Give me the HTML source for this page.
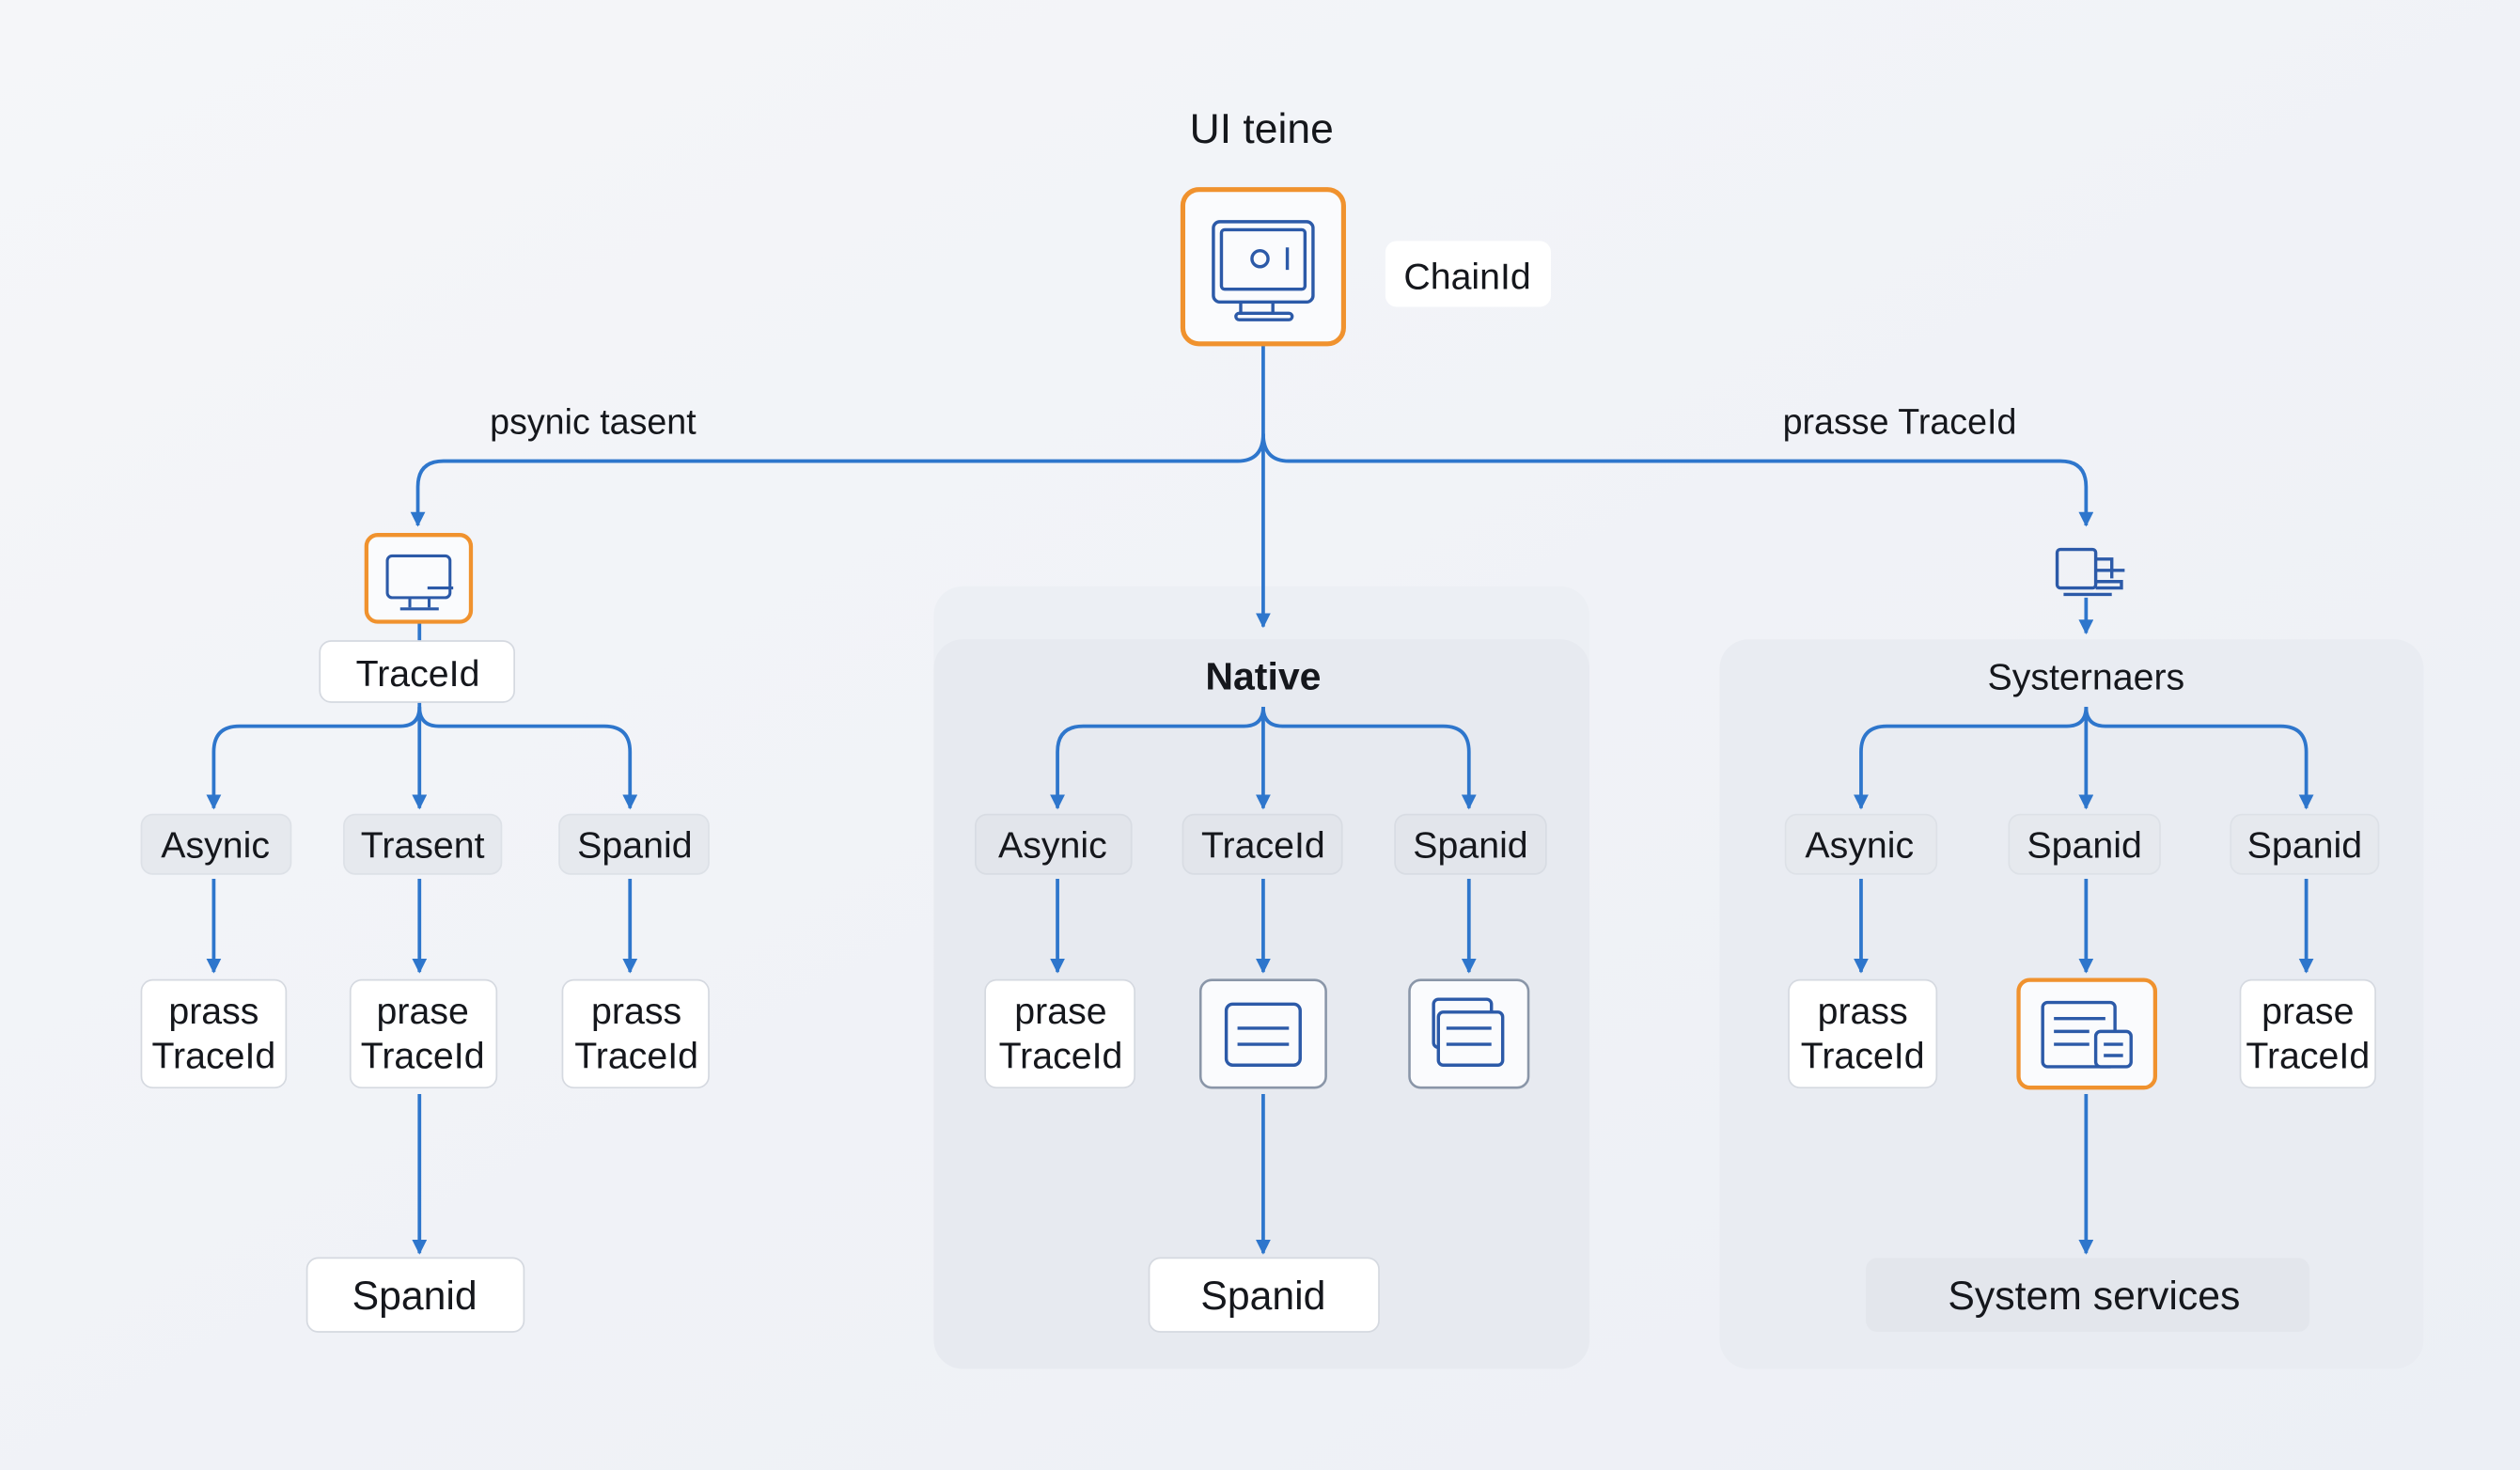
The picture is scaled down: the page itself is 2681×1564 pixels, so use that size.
<!DOCTYPE html>
<html><head><meta charset="utf-8"><style>
html,body{margin:0;padding:0;background:#f3f4f8;}
svg{display:block;}
text{font-family:"Liberation Sans",sans-serif;fill:#15171c;}
</style></head><body>
<svg width="2681" height="1564" viewBox="0 0 1568 915" preserveAspectRatio="none" xmlns="http://www.w3.org/2000/svg">
<defs>
<linearGradient id="bg" x1="0" y1="0" x2="1" y2="1"><stop offset="0" stop-color="#f5f6f9"/><stop offset="1" stop-color="#eceff5"/></linearGradient>
<marker id="a" viewBox="0 0 10 10" refX="9" refY="5" markerWidth="4.2" markerHeight="4.2" orient="auto"><path d="M0,0L10,5L0,10z" fill="#2e76cc"/></marker>
</defs>
<rect width="1568" height="915" fill="url(#bg)"/>
<!-- panels -->
<rect x="581" y="365" width="408" height="487" rx="18" fill="#eceff4"/>
<rect x="581" y="398" width="408" height="454" rx="18" fill="#e7eaf0"/>
<rect x="1070" y="398" width="438" height="454" rx="18" fill="#e9ecf2"/>

<g fill="none" stroke="#2e76cc" stroke-width="2.2">
<path d="M786,214 V390" marker-end="url(#a)"/>
<path d="M786,270 Q786,287 770,287 H276 Q260,287 260,303 V327" marker-end="url(#a)"/>
<path d="M786,270 Q786,287 802,287 H1282 Q1298,287 1298,303 V327" marker-end="url(#a)"/>
<path d="M1298,372 V394" marker-end="url(#a)"/>
<!-- left -->
<path d="M261,387 V399"/>
<path d="M261,437 V503" marker-end="url(#a)"/>
<path d="M261,440 Q261,452 249,452 H149 Q133,452 133,468 V503" marker-end="url(#a)"/>
<path d="M261,440 Q261,452 273,452 H376 Q392,452 392,468 V503" marker-end="url(#a)"/>
<path d="M133,547 V605" marker-end="url(#a)"/>
<path d="M261,547 V605" marker-end="url(#a)"/>
<path d="M392,547 V605" marker-end="url(#a)"/>
<path d="M261,681 V780" marker-end="url(#a)"/>
<!-- middle -->
<path d="M786,440 V503" marker-end="url(#a)"/>
<path d="M786,440 Q786,452 774,452 H674 Q658,452 658,468 V503" marker-end="url(#a)"/>
<path d="M786,440 Q786,452 798,452 H898 Q914,452 914,468 V503" marker-end="url(#a)"/>
<path d="M658,547 V605" marker-end="url(#a)"/>
<path d="M786,547 V605" marker-end="url(#a)"/>
<path d="M914,547 V605" marker-end="url(#a)"/>
<path d="M786,681 V780" marker-end="url(#a)"/>
<!-- right -->
<path d="M1298,440 V503" marker-end="url(#a)"/>
<path d="M1298,440 Q1298,452 1286,452 H1174 Q1158,452 1158,468 V503" marker-end="url(#a)"/>
<path d="M1298,440 Q1298,452 1310,452 H1419 Q1435,452 1435,468 V503" marker-end="url(#a)"/>
<path d="M1158,547 V605" marker-end="url(#a)"/>
<path d="M1298,547 V605" marker-end="url(#a)"/>
<path d="M1435,547 V605" marker-end="url(#a)"/>
<path d="M1298,681 V780" marker-end="url(#a)"/>
</g>

<text x="785" y="89" font-size="26" text-anchor="middle">UI teine</text>
<rect x="736" y="118" width="100" height="96" rx="10" fill="#fafbfd" stroke="#f0922e" stroke-width="3"/>
<g fill="none" stroke="#2c5aa8" stroke-width="2">
<rect x="755" y="138" width="62" height="50" rx="4"/><rect x="760" y="143" width="52" height="37" rx="2"/>
<circle cx="784" cy="161" r="5"/><path d="M801,154 V168 M772,188 V195 M792,188 V195"/><rect x="769" y="195" width="35" height="4" rx="2"/>
</g>
<rect x="862" y="150" width="103" height="41" rx="7" fill="#fff"/>
<text x="913" y="180" font-size="23" text-anchor="middle">ChainId</text>
<text x="369" y="270" font-size="22" text-anchor="middle">psynic tasent</text>
<text x="1182" y="270" font-size="22" text-anchor="middle">prasse TraceId</text>

<!-- left column -->
<rect x="228" y="333" width="65" height="54" rx="7" fill="#fafbfd" stroke="#f0922e" stroke-width="2.5"/>
<g fill="none" stroke="#2c5aa8" stroke-width="1.8"><rect x="241" y="346" width="39" height="26" rx="3"/><path d="M255,372 V378 M267,372 V378 M249,379 H273 M266,366 H282"/></g>
<g font-size="23" text-anchor="middle">
<rect x="199" y="399" width="121" height="38" rx="7" fill="#fff" stroke="#d5d9e0"/><text x="260" y="427">TraceId</text>
<rect x="88" y="507" width="93" height="37" rx="7" fill="#e6e9ee" stroke="#dde1e7"/><text x="134" y="534">Asynic</text>
<rect x="214" y="507" width="98" height="37" rx="7" fill="#e6e9ee" stroke="#dde1e7"/><text x="263" y="534">Trasent</text>
<rect x="348" y="507" width="93" height="37" rx="7" fill="#e6e9ee" stroke="#dde1e7"/><text x="395" y="534">Spanid</text>
<rect x="88" y="610" width="90" height="67" rx="7" fill="#fff" stroke="#d5d9e0"/><text x="133" y="637">prass</text><text x="133" y="665">TraceId</text>
<rect x="218" y="610" width="91" height="67" rx="7" fill="#fff" stroke="#d5d9e0"/><text x="263" y="637">prase</text><text x="263" y="665">TraceId</text>
<rect x="350" y="610" width="91" height="67" rx="7" fill="#fff" stroke="#d5d9e0"/><text x="396" y="637">prass</text><text x="396" y="665">TraceId</text>
<rect x="191" y="783" width="135" height="46" rx="7" fill="#fff" stroke="#d5d9e0"/><text x="258" y="815" font-size="25">Spanid</text>

<!-- middle -->
<text x="786" y="429" font-size="24" font-weight="bold">Native</text>
<rect x="607" y="507" width="97" height="37" rx="7" fill="#e2e5eb" stroke="#d8dce3"/><text x="655" y="534">Asynic</text>
<rect x="736" y="507" width="99" height="37" rx="7" fill="#e2e5eb" stroke="#d8dce3"/><text x="786" y="534">TraceId</text>
<rect x="868" y="507" width="94" height="37" rx="7" fill="#e2e5eb" stroke="#d8dce3"/><text x="915" y="534">Spanid</text>
<rect x="613" y="610" width="93" height="67" rx="7" fill="#fff" stroke="#d5d9e0"/><text x="660" y="637">prase</text><text x="660" y="665">TraceId</text>
<rect x="715" y="783" width="143" height="46" rx="7" fill="#fff" stroke="#d5d9e0"/><text x="786" y="815" font-size="25">Spanid</text>

<!-- right -->
<text x="1298" y="429" font-size="23">Systernaers</text>
<rect x="1111" y="507" width="94" height="37" rx="7" fill="#e6e9ee" stroke="#dde1e7"/><text x="1157" y="534">Asynic</text>
<rect x="1250" y="507" width="94" height="37" rx="7" fill="#e6e9ee" stroke="#dde1e7"/><text x="1297" y="534">Spanid</text>
<rect x="1388" y="507" width="92" height="37" rx="7" fill="#e6e9ee" stroke="#dde1e7"/><text x="1434" y="534">Spanid</text>
<rect x="1113" y="610" width="92" height="67" rx="7" fill="#fff" stroke="#d5d9e0"/><text x="1159" y="637">prass</text><text x="1159" y="665">TraceId</text>
<rect x="1394" y="610" width="84" height="67" rx="7" fill="#fff" stroke="#d5d9e0"/><text x="1436" y="637">prase</text><text x="1436" y="665">TraceId</text>
<rect x="1161" y="783" width="276" height="46" rx="7" fill="#e3e6ec"/><text x="1303" y="815" font-size="25">System services</text>
</g>
<rect x="747" y="610" width="78" height="67" rx="7" fill="#fafbfd" stroke="#8a96a8" stroke-width="1.5"/>
<rect x="877" y="610" width="74" height="67" rx="7" fill="#fafbfd" stroke="#8a96a8" stroke-width="1.5"/>
<rect x="1256" y="610" width="85" height="67" rx="7" fill="#fafbfd" stroke="#f0922e" stroke-width="2.5"/>
<g fill="none" stroke="#2c5aa8" stroke-width="2">
<rect x="763" y="625" width="46" height="38" rx="4"/><path d="M770,640 H802 M770,650 H802"/>
<rect x="892" y="622" width="36" height="30" rx="3"/><rect x="895" y="630" width="40" height="33" rx="3" fill="#fafbfd"/><path d="M900,640 H928 M900,650 H928"/>
<rect x="1271" y="624" width="45" height="40" rx="3"/><path d="M1278,634 H1310 M1278,642 H1300 M1278,650 H1300"/><rect x="1304" y="642" width="22" height="22" rx="3" fill="#fafbfd"/><path d="M1309,650 H1321 M1309,657 H1321"/>
<rect x="1280" y="342" width="24" height="24" rx="2"/><path d="M1304,348 H1314 V360 M1304,355 H1322 M1304,362 H1320 V366 H1304 M1284,370 H1314"/>
</g>
</svg>
</body></html>
